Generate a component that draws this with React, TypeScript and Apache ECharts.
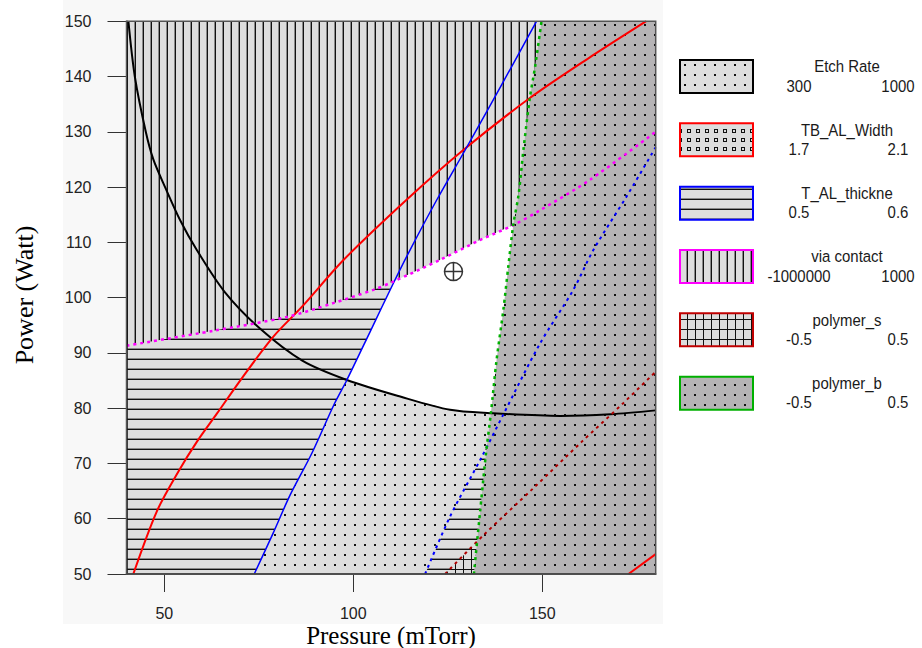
import React, { useEffect, useRef } from 'react';
import * as echarts from 'echarts';

// ---- axis extents and ticks ----
const xExtent = [40, 180];
const yExtent = [50, 150];
const xTickValues = [50, 100, 150];
const yInterval = 10;

// ---- constraint contours (Pressure, Power) ----
const etchRateLow = [[40.5, 150], [42.2, 140], [45.1, 130], [47.1, 125], [50.2, 120], [54.2, 114], [58.6, 108.6], [66, 101], [75.3, 94.4], [86.5, 88.6], [98.3, 85.1], [112.4, 82.1], [125.6, 79.7], [136.2, 79.1], [154.7, 78.6], [168, 78.9], [180, 79.6]];
const tbAlWidthLow = [[41.8, 50], [48, 61.3], [53.7, 68.5], [58.6, 73.9], [63.9, 79], [70.5, 85.4], [78.8, 92.9], [86.5, 98.4], [97.4, 106.8], [114.1, 117.7], [129.1, 126.7], [146.7, 136.1], [162, 143.2], [177.5, 150]];
const tbAlWidthHigh = [[172.8, 50], [180, 53.6]];
const tAlLow = [[73.8, 50], [78.8, 57.4], [83.3, 64.3], [89, 71.8], [95, 80.8], [98.3, 85.1], [104.5, 93.9], [110.6, 102.6], [115, 108.6], [122.1, 117.7], [129.6, 126.7], [136, 134.5], [142.3, 142.3], [148.5, 150]];
const tAlHigh = [[119, 50], [125.6, 60.4], [134, 71.2], [139.5, 78.6], [149.4, 91.7], [158.2, 101.4], [163.5, 108.6], [172.3, 118.3], [180, 127.2]];
const viaContact = [[40, 91.3], [63, 94], [82.4, 96.5], [94.7, 99], [105.3, 101.4], [110.6, 102.9], [122.9, 106.8], [133.5, 110.4], [142.3, 113.1], [149.4, 115.8], [162.6, 121.3], [180, 130]];
const polymerS = [[124.3, 50], [134.4, 57], [147.6, 65.5], [160.4, 73.9], [171.4, 80.9], [180, 86.6]];
const polymerB = [[131.9, 50], [133.5, 61], [135.1, 71.8], [136.4, 79.1], [137.9, 88.7], [139.7, 97.8], [141, 105.6], [142.3, 113.1], [143.7, 118.5], [145, 126.7], [146.7, 136.1], [148.1, 141.8], [149.8, 150]];
const optimumPoint = [[126.5, 104.7]];

// ---- legend ----
const legendNames = ['Etch Rate', 'TB_AL_Width', 'T_AL_thickne', 'via contact', 'polymer_s', 'polymer_b'];
const legendLow = ['300', '1.7', '0.5', '-1000000', '-0.5', '-0.5'];
const legendHigh = ['1000', '2.1', '0.6', '1000', '0.5', '0.5'];
const legendBorder = ['#000000', '#ff0000', '#0000ff', '#ff00ff', '#c00000', '#00b000'];

const LIGHT = '#dddddd';
const DARK = '#b5b3b5';
const SANS = "'Liberation Sans', Arial, sans-serif";
const SERIF = "'Liberation Serif', 'Times New Roman', serif";

const G = { left: 126.5, top: 21.2, width: 529.2, height: 552.8 };

function tile(w: number, h: number, bg: string, draw: (g: CanvasRenderingContext2D) => void) {
  const c = document.createElement('canvas');
  c.width = w;
  c.height = h;
  const g = c.getContext('2d')!;
  g.fillStyle = bg;
  g.fillRect(0, 0, w, h);
  draw(g);
  return { image: c, repeat: 'repeat', imageWidth: w, imageHeight: h } as any;
}

export default function App() {
  const ref = useRef<HTMLDivElement>(null);
  useEffect(() => {
    if (!ref.current) return;
    const chart = echarts.init(ref.current, null, { renderer: 'svg' });

    const dotsLight = tile(10, 10, LIGHT, (g) => { g.fillStyle = '#111'; g.fillRect(4, 4, 2, 2); });
    const dotsDark = tile(10, 10, DARK, (g) => { g.fillStyle = '#111'; g.fillRect(4, 4, 2, 2); });
    const horiz = tile(10, 10, LIGHT, (g) => { g.fillStyle = '#888'; g.fillRect(0, 8, 10, 1); g.fillStyle = '#111'; g.fillRect(0, 9, 10, 1); });
    const vert = tile(8, 8, LIGHT, (g) => { g.fillStyle = '#888'; g.fillRect(6, 0, 1, 8); g.fillStyle = '#111'; g.fillRect(7, 0, 1, 8); });
    const grid = tile(8, 10, LIGHT, (g) => { g.fillStyle = '#111'; g.fillRect(7, 0, 1, 10); g.fillRect(0, 9, 8, 1); });
    const squares = tile(9, 9, LIGHT, (g) => { g.strokeStyle = '#111'; g.lineWidth = 1; g.strokeRect(3.5, 3.5, 3, 3); });
    const legendFills = [dotsLight, squares, horiz, vert, grid, dotsDark];

    const x0 = xExtent[0], x1 = xExtent[1], y0 = yExtent[0], y1 = yExtent[1];
    const regions: [number[][], any][] = [
      [[[x0, y0], [x1, y0], [x1, y1], [x0, y1]], dotsLight],
      [[...etchRateLow, [x1, y1], [x0, y1]], '#ffffff'],
      [[[x0, y0], ...tAlLow, [x0, y1]], horiz],
      [[...viaContact, [x1, y1], [x0, y1]], vert],
      [[...tAlHigh, [x1, y0]], horiz],
      [[...polymerS, [x1, y0]], grid],
      [[...polymerB, [x1, y1], [x1, y0]], dotsDark],
    ];

    const regionSeries = regions.map(([poly, fill]) => ({
      type: 'custom',
      coordinateSystem: 'cartesian2d',
      clip: true,
      silent: true,
      z: 1,
      data: poly,
      encode: { x: 0, y: 1 },
      renderItem: (params: any, api: any) => {
        if (params.dataIndex !== 0) return null;
        return {
          type: 'polygon',
          shape: { points: poly.map((p) => api.coord(p)) },
          style: { fill, stroke: null },
        };
      },
    }));

    const line = (data: number[][], color: string, width: number, dotted: boolean) => ({
      type: 'line',
      data,
      showSymbol: false,
      symbol: 'none',
      silent: true,
      smooth: 0.3,
      z: 3,
      clip: true,
      lineStyle: { color, width, type: dotted ? [3, 4] : 'solid' },
    });

    const txt = (text: string, x: number, y: number) => ({
      type: 'text', x, y, z: 100, scaleX: 0.88, silent: true,
      style: { text, font: `17px ${SANS}`, fill: '#1a1a1a', align: 'center', verticalAlign: 'middle' },
    });

    const legendEls: any[] = [];
    legendNames.forEach((name, i) => {
      const top = 60 + i * 63.33;
      legendEls.push({
        type: 'rect',
        shape: { x: 680, y: top, width: 73, height: 33 },
        style: { fill: legendFills[i], stroke: legendBorder[i], lineWidth: 2 },
        z: 100,
        silent: true,
      });
      legendEls.push(txt(name, 847, top + 6.5));
      legendEls.push(txt(legendLow[i], 799, top + 26));
      legendEls.push(txt(legendHigh[i], 898, top + 26));
    });

    chart.setOption({
      animation: false,
      backgroundColor: '#ffffff',
      grid: { left: G.left, top: G.top, width: G.width, height: G.height, containLabel: false },
      xAxis: {
        type: 'value',
        min: xExtent[0],
        max: xExtent[1],
        z: 10,
        splitLine: { show: false },
        axisLine: { lineStyle: { color: '#000', width: 1.5 } },
        axisTick: { show: true, length: 18, customValues: xTickValues, lineStyle: { color: '#333' } },
        axisLabel: { customValues: xTickValues, margin: 31, fontSize: 16, fontFamily: SANS, color: '#222' },
      },
      yAxis: {
        type: 'value',
        min: yExtent[0],
        max: yExtent[1],
        interval: yInterval,
        z: 10,
        splitLine: { show: false },
        axisLine: { show: true, lineStyle: { color: '#000', width: 1.5 } },
        axisTick: { show: true, length: 19, lineStyle: { color: '#333' } },
        axisLabel: { margin: 35, fontSize: 16, fontFamily: SANS, color: '#222' },
      },
      graphic: {
        elements: [
          { type: 'rect', shape: { x: 63, y: 0, width: 600, height: 624 }, style: { fill: '#f8f8f8' }, z: -100, silent: true },
          { type: 'rect', shape: { x: G.left, y: G.top, width: G.width, height: G.height }, style: { fill: 'none', stroke: '#555', lineWidth: 1.5 }, z: 50, silent: true },
          { type: 'text', x: 391, y: 635, z: 100, silent: true, style: { text: 'Pressure (mTorr)', font: `25px ${SERIF}`, fill: '#000', align: 'center', verticalAlign: 'middle' } },
          { type: 'text', x: 24, y: 295, rotation: Math.PI / 2, z: 100, silent: true, style: { text: 'Power (Watt)', font: `26px ${SERIF}`, fill: '#000', align: 'center', verticalAlign: 'middle' } },
          ...legendEls,
        ],
      },
      series: [
        ...regionSeries,
        line(etchRateLow, '#000000', 2, false),
        line(tbAlWidthLow, '#ff0000', 2, false),
        line(tbAlWidthHigh, '#ff0000', 2, false),
        line(tAlLow, '#0000ff', 1.5, false),
        line(tAlHigh, '#0000ff', 2, true),
        line(viaContact, '#ff00ff', 2.5, true),
        line(polymerS, '#b00000', 2, true),
        line(polymerB, '#00b000', 2.5, true),
        {
          type: 'scatter',
          data: optimumPoint,
          z: 5,
          silent: true,
          symbol: 'path://M10,0A10,10,0,1,1,10,20A10,10,0,1,1,10,0ZM0,10L20,10M10,0L10,20',
          symbolSize: 18,
          itemStyle: { color: 'rgba(0,0,0,0)', borderColor: '#000', borderWidth: 1.5 },
        },
      ],
    });
    return () => chart.dispose();
  }, []);
  return <div ref={ref} style={{ position: 'fixed', left: 0, top: 0, width: 922, height: 648 }} />;
}
